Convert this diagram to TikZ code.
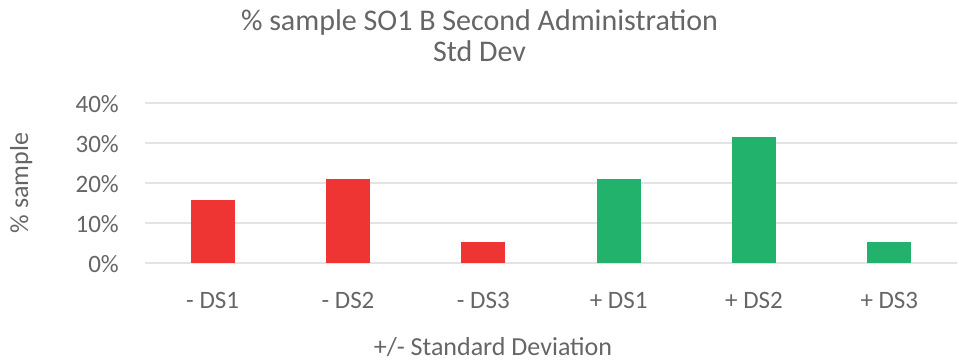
\documentclass[tikz,border=0pt]{standalone}
\usepackage{fontspec}
\setmainfont{Carlito}
\definecolor{labelgray}{HTML}{666666}
\definecolor{gridgray}{HTML}{E3E3E3}
\definecolor{negred}{HTML}{EE3533}
\definecolor{posgreen}{HTML}{22B26C}
\begin{document}
\begin{tikzpicture}[x=1pt,y=-1pt,
  gridline/.style={draw=gridgray,line width=1.5pt},
  negbar/.style={fill=negred},
  posbar/.style={fill=posgreen},
  ticklabel/.style={text=labelgray,inner sep=0pt,font=\fontsize{25}{30}\selectfont},
  axistitle/.style={text=labelgray,inner sep=0pt,font=\fontsize{26}{31}\selectfont},
  charttitle/.style={text=labelgray,inner sep=0pt,font=\fontsize{30}{36}\selectfont}]
\useasboundingbox (0,0) rectangle (959,362);
% horizontal gridlines and value-axis labels (0% .. 40%)
\foreach \k in {0,...,4}{
  \draw[gridline] (145,263-40*\k) -- (957,263-40*\k);
  \node[ticklabel,anchor=base east] (tick\k) at (119,272-40*\k) {\pgfmathparse{int(10*\k)}\pgfmathresult\%};
}
% bars: category centre, value in percent, style, label
\foreach \i/\v/\s/\lab in {0/15.79/negbar/- DS1,1/21.05/negbar/- DS2,2/5.26/negbar/- DS3,
                           3/21.05/posbar/+ DS1,4/31.58/posbar/+ DS2,5/5.26/posbar/+ DS3}{
  \pgfmathsetmacro{\c}{145+135.33*(\i+0.5)}
  \fill[\s] (\c-22,263) rectangle (\c+22,263-4*\v);
  \node[ticklabel,anchor=base] (cat\i) at (\c,308) {\lab};
}
% titles
\node[charttitle,anchor=base] (title) at (479.5,30) {\% sample SO1 B Second Administration};
\node[charttitle,anchor=base] (subtitle) at (479.5,61) {Std Dev};
\node[axistitle,anchor=base] (xtitle) at (493,355) {+/- Standard Deviation};
\node[axistitle,anchor=base,rotate=90] (ytitle) at (28,183) {\% sample};
\end{tikzpicture}
\end{document}
